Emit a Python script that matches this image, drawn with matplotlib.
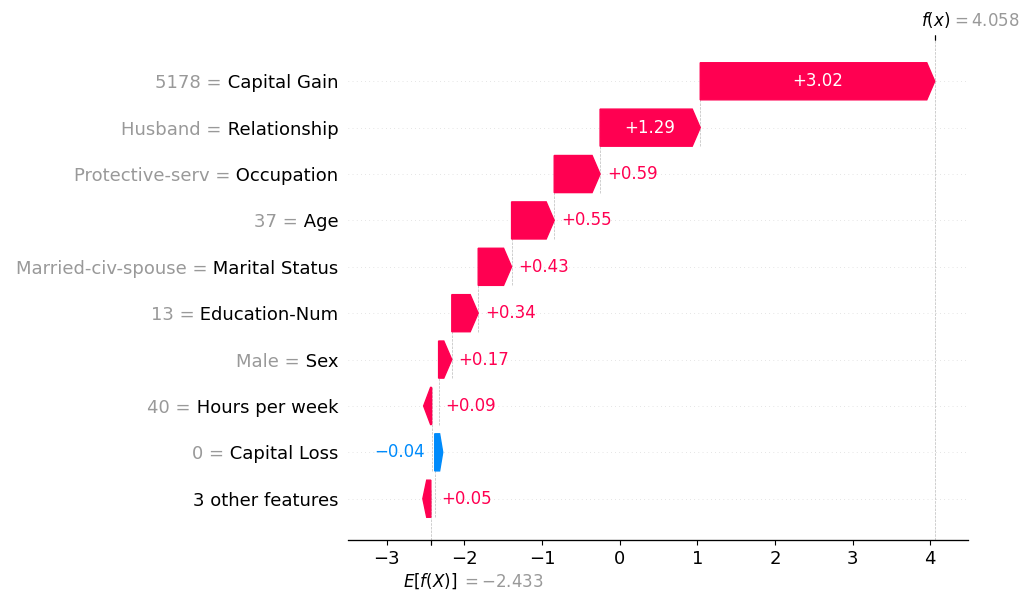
import matplotlib
matplotlib.use("Agg")
import matplotlib.pyplot as plt
import matplotlib.transforms as mtransforms
import numpy as np

# ---- data ----
feature_names = ["Capital Gain", "Relationship", "Occupation", "Age", "Marital Status",
                 "Education-Num", "Sex", "Hours per week", "Capital Loss"]
feature_values = ["5178", "Husband", "Protective-serv", "37", "Married-civ-spouse",
                  "13", "Male", "40", "0"]
shap_values = [3.021, 1.290, 0.591, 0.549, 0.430, 0.340, 0.170, 0.090, -0.040]
other_label = "3 other features"
other_value = 0.050
base_value = -2.433

red = (1.0, 0.0, 0.3176)
blue = (0.0, 0.5451, 0.9843)


def fmt(v, f):
    return (f % v).replace("-", "\u2212")


values = np.array(shap_values + [other_value])
num_features = len(feature_names) + 1
num_individual = len(feature_names)
rng = list(range(num_features - 1, -1, -1))
fx = base_value + values.sum()

fig = plt.figure(figsize=(10.3, 6.0), dpi=100)
ax = fig.add_axes([348 / 1030, 60 / 600, 620 / 1030, 500 / 600])

pos_lefts, pos_inds, pos_widths = [], [], []
neg_lefts, neg_inds, neg_widths = [], [], []
loc = fx
name_labels = ["" for _ in range(num_features)]
value_labels = ["" for _ in range(num_features)]

for i in range(num_individual):
    sval = shap_values[i]
    loc -= sval
    if sval >= 0:
        pos_inds.append(rng[i]); pos_widths.append(sval); pos_lefts.append(loc)
    else:
        neg_inds.append(rng[i]); neg_widths.append(sval); neg_lefts.append(loc)
    ax.plot([loc, loc], [rng[i] - 1 - 0.4, rng[i] + 0.4], color="#bbbbbb",
            linestyle="--", linewidth=0.5, zorder=-1)
    name_labels[rng[i]] = " " + feature_names[i]
    value_labels[rng[i]] = feature_values[i] + " ="

name_labels[0] = other_label
remaining_impact = base_value - loc
if remaining_impact < 0:
    pos_inds.append(0); pos_widths.append(-remaining_impact); pos_lefts.append(loc + remaining_impact)
else:
    neg_inds.append(0); neg_widths.append(-remaining_impact); neg_lefts.append(loc + remaining_impact)

points = pos_lefts + list(np.array(pos_lefts) + np.array(pos_widths)) + neg_lefts + \
    list(np.array(neg_lefts) + np.array(neg_widths))
dataw = np.max(points) - np.min(points)

# invisible bars for sizing
lp = np.array([0.1 * dataw if w < 1 else 0 for w in pos_widths])
ax.barh(pos_inds, np.array(pos_widths) + lp + 0.02 * dataw,
        left=np.array(pos_lefts) - 0.01 * dataw, color=red, alpha=0)
lp = np.array([-0.1 * dataw if -w < 1 else 0 for w in neg_widths])
ax.barh(neg_inds, np.array(neg_widths) + lp - 0.02 * dataw,
        left=np.array(neg_lefts) + 0.01 * dataw, color=blue, alpha=0)

head_length = 0.08
bar_width = 0.8
xlen = ax.get_xlim()[1] - ax.get_xlim()[0]
bbox = ax.get_window_extent().transformed(fig.dpi_scale_trans.inverted())
bbox_to_xscale = xlen / bbox.width
hl_scaled = bbox_to_xscale * head_length
renderer = fig.canvas.get_renderer()

for i in range(len(pos_inds)):
    dist = pos_widths[i]
    arrow_obj = ax.arrow(pos_lefts[i], pos_inds[i], dist - hl_scaled, 0,
                         head_length=min(dist, hl_scaled), color=red,
                         width=bar_width, head_width=bar_width)
    txt = ax.text(pos_lefts[i] + 0.5 * dist, pos_inds[i], fmt(dist, "%+0.02f"),
                  ha="center", va="center", color="white", fontsize=12)
    if txt.get_window_extent(renderer=renderer).width > arrow_obj.get_window_extent(renderer=renderer).width:
        txt.remove()
        ax.text(pos_lefts[i] + (5 / 72) * bbox_to_xscale + dist, pos_inds[i],
                fmt(dist, "%+0.02f"), ha="left", va="center", color=red, fontsize=12)

for i in range(len(neg_inds)):
    dist = neg_widths[i]
    arrow_obj = ax.arrow(neg_lefts[i], neg_inds[i], -(-dist - hl_scaled), 0,
                         head_length=min(-dist, hl_scaled), color=blue,
                         width=bar_width, head_width=bar_width)
    txt = ax.text(neg_lefts[i] + 0.5 * dist, neg_inds[i], fmt(dist, "%+0.02f"),
                  ha="center", va="center", color="white", fontsize=12)
    if txt.get_window_extent(renderer=renderer).width > arrow_obj.get_window_extent(renderer=renderer).width:
        txt.remove()
        ax.text(neg_lefts[i] - (5 / 72) * bbox_to_xscale + dist, neg_inds[i],
                fmt(dist, "%+0.02f"), ha="right", va="center", color=blue, fontsize=12)

ax.set_yticks(list(range(num_features)), name_labels, fontsize=13)

for i in range(num_features):
    ax.axhline(i, color="#cccccc", lw=0.5, dashes=(1, 5), zorder=-1)

ax.axvline(base_value, 0, 1 / num_features, color="#bbbbbb", linestyle="--", linewidth=0.5, zorder=-1)
ax.axvline(fx, 0, 1, color="#bbbbbb", linestyle="--", linewidth=0.5, zorder=-1)

ax.xaxis.set_ticks_position("bottom")
ax.yaxis.set_ticks_position("none")
for s in ["right", "top", "left"]:
    ax.spines[s].set_visible(False)
ax.tick_params(labelsize=13)

xmin, xmax = ax.get_xlim()
ax2 = ax.twiny()
ax2.set_xlim(xmin, xmax)
ax2.xaxis.tick_bottom()
ax2.set_xticks([base_value, base_value + 1e-8],
               ["$E[f(X)]$", "$ = " + ("%0.03f" % base_value) + "$"], fontsize=12, ha="left")
for s in ["right", "top", "left"]:
    ax2.spines[s].set_visible(False)

ax3 = ax2.twiny()
ax3.set_xlim(xmin, xmax)
ax3.set_xticks([fx, fx + 1e-8], ["$f(x)$", "$ = " + ("%0.03f" % fx) + "$"], fontsize=12, ha="left")
tl = ax3.xaxis.get_majorticklabels()
tl[0].set_transform(tl[0].get_transform() + mtransforms.ScaledTranslation(-10 / 72., 0, fig.dpi_scale_trans))
tl[1].set_transform(tl[1].get_transform() + mtransforms.ScaledTranslation(12 / 72., 0, fig.dpi_scale_trans))
tl[1].set_color("#999999")
for s in ["right", "top", "left"]:
    ax3.spines[s].set_visible(False)

line_drop = 16.0 / 72.
tl = ax2.xaxis.get_majorticklabels()
tl[0].set_transform(tl[0].get_transform() + mtransforms.ScaledTranslation(-20 / 72., -line_drop, fig.dpi_scale_trans))
tl[1].set_transform(tl[1].get_transform() + mtransforms.ScaledTranslation(22 / 72., -1 / 72. - line_drop, fig.dpi_scale_trans))
tl[1].set_color("#999999")

# gray "value =" prefixes placed just left of the black feature names
fig.canvas.draw()
renderer = fig.canvas.get_renderer()
for lab, pre in zip(ax.yaxis.get_majorticklabels(), value_labels):
    if not pre:
        continue
    w = lab.get_window_extent(renderer=renderer).width
    trans = lab.get_transform() + mtransforms.Affine2D().translate(-w, 0)
    x, y = lab.get_position()
    ax.text(x, y, pre, transform=trans, ha="right", va=lab.get_va(),
            fontsize=13, color="#999999", clip_on=False)

fig.savefig("out.png", dpi=100)
